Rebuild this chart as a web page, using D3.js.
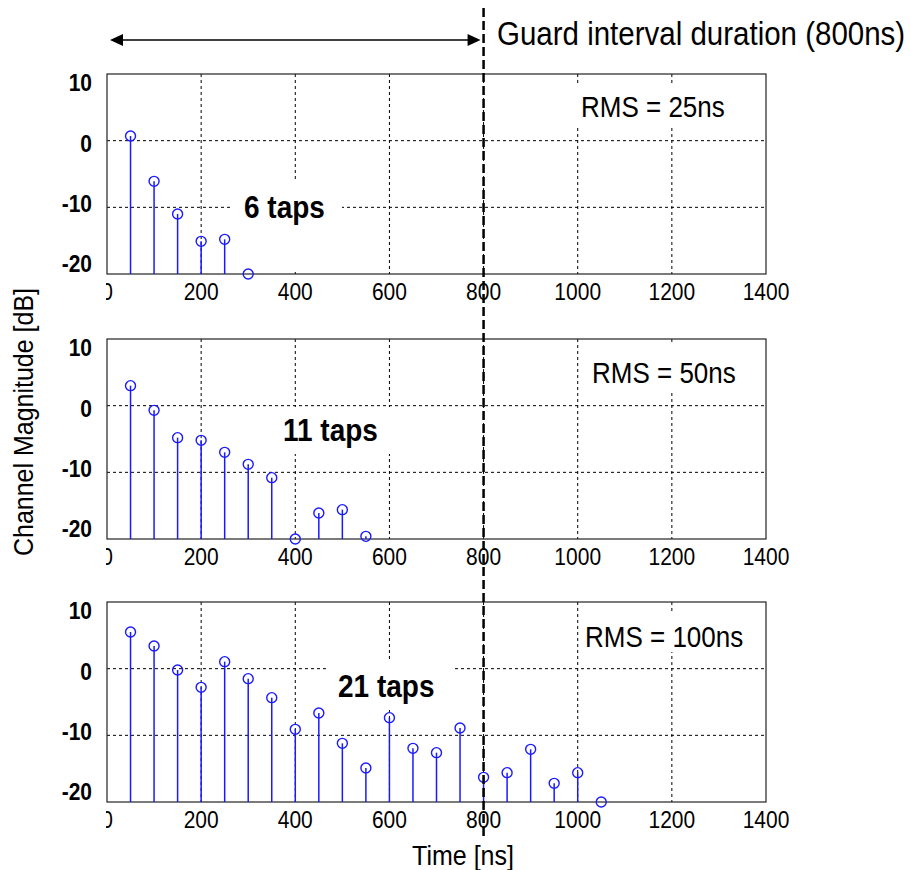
<!DOCTYPE html>
<html>
<head>
<meta charset="utf-8">
<script src="https://cdn.jsdelivr.net/npm/d3@7"></script>
<style>
  html, body { margin: 0; padding: 0; background: #fff; }
  svg { display: block; font-family: "Liberation Sans", Arial, sans-serif; }
</style>
</head>
<body>
<svg id="chart" width="911" height="870"></svg>
<script>
// Tap delays in ns (shared by every panel)
const delays25 = [50, 100, 150, 200, 250, 300];
const delays50 = [50, 100, 150, 200, 250, 300, 350, 400, 450, 500, 550];
const delays100 = [50, 100, 150, 200, 250, 300, 350, 400, 450, 500,
                   550, 600, 650, 700, 750, 800, 850, 900, 950, 1000, 1050];

// Tap magnitudes in dB
const mag25 = [0.7, -6.1, -11.0, -15.1, -14.8, -20.0];
const mag50 = [3.0, -0.7, -4.8, -5.2, -7.0, -8.8, -10.8, -20.0, -16.1, -15.6, -19.6];
const mag100 = [5.5, 3.4, -0.2, -2.8, 1.05, -1.5, -4.35, -9.1, -6.65, -11.2,
                -14.9, -7.35, -11.95, -12.6, -8.9, -16.3, -15.6, -12.1, -17.2, -15.6, -20.0];

// Panel titles / annotations
const rmsLabels = ["RMS = 25ns", "RMS = 50ns", "RMS = 100ns"];
const tapLabels = ["6 taps", "11 taps", "21 taps"];

// Axis ticks
const xTicks = [0, 200, 400, 600, 800, 1000, 1200, 1400];
const yTicks = [10, 0, -10, -20];
const xGrid = [200, 400, 600, 800, 1000, 1200];
const yGrid = [0, -10];

const guardInterval = 800;
const guardText = "Guard interval duration (800ns)";

const panels = [
  { delays: delays25, mags: mag25, rms: rmsLabels[0], taps: tapLabels[0], top: 74,
    rmsBox: [565, 85, 180, 42], rmsPos: [581, 107],
    tapBox: [230, 182, 112, 90], tapPos: [244, 207] },
  { delays: delays50, mags: mag50, rms: rmsLabels[1], taps: tapLabels[1], top: 339,
    rmsBox: [580, 345, 165, 45], rmsPos: [592, 373],
    tapBox: [270, 407, 130, 47], tapPos: [283, 430] },
  { delays: delays100, mags: mag100, rms: rmsLabels[2], taps: tapLabels[2], top: 602,
    rmsBox: [580, 612, 170, 40], rmsPos: [585, 637],
    tapBox: [327, 659, 126, 49], tapPos: [338, 686] }
];

const W = 911, H = 870;
const left = 107, right = 766, ph = 200;
const svg = d3.select("#chart");

const x = d3.scaleLinear().domain([0, 1400]).range([left, right]);

svg.append("defs").append("clipPath").attr("id", "xlabclip")
  .append("rect").attr("x", left - 1).attr("y", 0).attr("width", W).attr("height", H);

const blue = "#1a1aff";

// text placed at (tx, ty) and drawn a little taller than wide
function label(parent, tx, ty, str, size, opts = {}) {
  const t = parent.append("text")
    .attr("transform", `translate(${tx},${ty}) ${opts.rotate ? "rotate(-90)" : ""} scale(1,1.1)`)
    .attr("dy", "0.36em").attr("font-size", size)
    .attr("text-anchor", opts.anchor || "start")
    .text(str);
  if (opts.bold) t.attr("font-weight", "bold");
  return t;
}

panels.forEach((p, i) => {
  const y = d3.scaleLinear().domain([-20, 10]).range([p.top + ph, p.top]);
  // tick labels sit slightly inside the extreme ticks
  const yLab = d3.scaleLinear().domain([-20, 10]).range([p.top + 190, p.top + 9]);
  const g = svg.append("g");

  // grid
  g.selectAll("line.vg").data(xGrid).join("line")
    .attr("x1", d => x(d)).attr("x2", d => x(d))
    .attr("y1", y(10)).attr("y2", y(-20))
    .attr("stroke", "#000").attr("stroke-width", 1).attr("stroke-dasharray", "3,3");
  g.selectAll("line.hg").data(yGrid).join("line")
    .attr("x1", x(0)).attr("x2", x(1400))
    .attr("y1", d => y(d)).attr("y2", d => y(d))
    .attr("stroke", "#000").attr("stroke-width", 1).attr("stroke-dasharray", "3,3");

  // white boxes behind annotations
  g.append("rect").attr("x", p.rmsBox[0]).attr("y", p.rmsBox[1])
    .attr("width", p.rmsBox[2]).attr("height", p.rmsBox[3]).attr("fill", "#fff");
  g.append("rect").attr("x", p.tapBox[0]).attr("y", p.tapBox[1])
    .attr("width", p.tapBox[2]).attr("height", p.tapBox[3]).attr("fill", "#fff");

  // frame
  g.append("rect").attr("x", x(0)).attr("y", y(10))
    .attr("width", x(1400) - x(0)).attr("height", y(-20) - y(10))
    .attr("fill", "none").attr("stroke", "#222").attr("stroke-width", 1.2);

  // stems
  const data = p.delays.map((d, k) => ({ t: d, v: p.mags[k] }));
  g.selectAll("line.stem").data(data).join("line")
    .attr("x1", d => x(d.t)).attr("x2", d => x(d.t))
    .attr("y1", y(-20)).attr("y2", d => y(d.v))
    .attr("stroke", blue).attr("stroke-width", 1.5);
  g.selectAll("circle.mk").data(data).join("circle")
    .attr("cx", d => x(d.t)).attr("cy", d => y(d.v)).attr("r", 5)
    .attr("fill", "none").attr("stroke", blue).attr("stroke-width", 1.4);

  // y tick labels
  yTicks.forEach(d => label(g, 92, yLab(d), d, 21, { anchor: "end", bold: true }));

  // x tick labels
  const xl = g.append("g").attr("clip-path", "url(#xlabclip)");
  xTicks.forEach(d => label(xl, x(d), y(-20) + 18, d, 21, { anchor: "middle" }));

  // annotations
  label(g, p.rmsPos[0], p.rmsPos[1], p.rms, 26);
  label(g, p.tapPos[0], p.tapPos[1], p.taps, 28, { bold: true });
});

// guard interval marker
svg.append("line")
  .attr("x1", x(guardInterval)).attr("x2", x(guardInterval))
  .attr("y1", 8).attr("y2", 838)
  .attr("stroke", "#000").attr("stroke-width", 2.5).attr("stroke-dasharray", "9,4");

// double arrow spanning the guard interval
const arrowY = 40;
const ax0 = x(0) + 3, ax1 = x(guardInterval) - 3;
svg.append("line").attr("x1", ax0 + 10).attr("x2", ax1 - 10)
  .attr("y1", arrowY).attr("y2", arrowY).attr("stroke", "#000").attr("stroke-width", 1.6);
svg.append("path")
  .attr("d", `M${ax0},${arrowY} l13,-6 v12 Z M${ax1},${arrowY} l-13,-6 v12 Z`)
  .attr("fill", "#000");

label(svg, 497, 33, guardText, 29.5);

// axis titles
label(svg, 23, 422, "Channel Magnitude [dB]", 25, { anchor: "middle", rotate: true });
label(svg, 463, 855, "Time [ns]", 25, { anchor: "middle" });
</script>
</body>
</html>
